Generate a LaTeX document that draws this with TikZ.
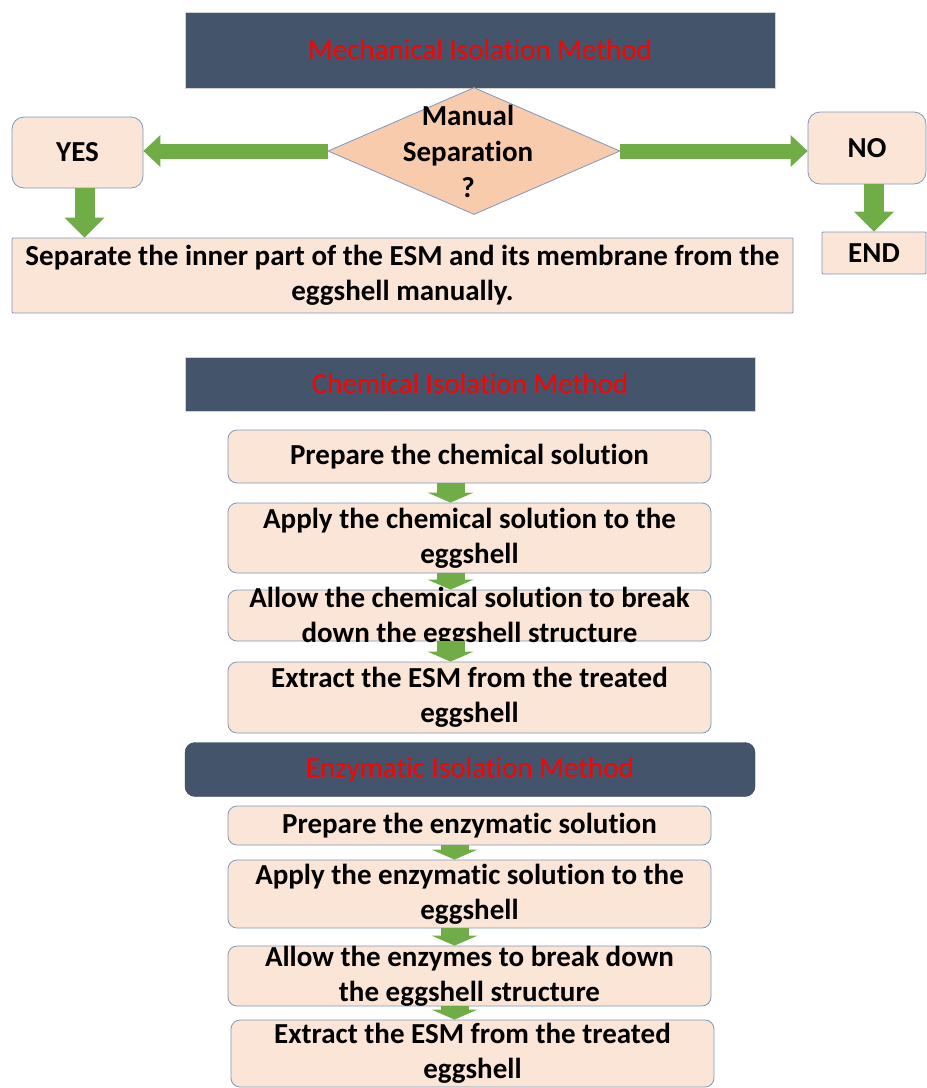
\documentclass[tikz,border=0pt]{standalone}
\usepackage{fontspec}
\setmainfont{Carlito}[Ligatures=NoCommon]
\usepackage{xcolor}
\usepackage{tikz}
\usetikzlibrary{arrows.meta,shapes.geometric}
\definecolor{HeaderSlate}{RGB}{68,84,106}
\definecolor{BoxPeach}{RGB}{251,229,214}
\definecolor{BoxEdge}{RGB}{125,152,188}
\definecolor{DiamondPeach}{RGB}{248,203,173}
\definecolor{ArrowGreen}{RGB}{112,173,71}
\tikzset{
  header/.style={fill=HeaderSlate,draw=gray!35,minimum width=570,minimum height=54,inner sep=0,
    text=red,font=\fontsize{29}{32}\selectfont},
  stepbox/.style={fill=BoxPeach,draw=BoxEdge,line width=0.8,rounded corners=9,minimum width=483,inner sep=0,
    align=center,font=\fontsize{29}{35}\selectfont\bfseries},
  steptext/.style={align=center,inner sep=0,font=\fontsize{29}{35}\selectfont\bfseries},
  sidearrow/.style={draw=ArrowGreen,line width=15,-{Triangle[width=32,length=17,line width=0pt]}},
  bigarrow/.style={draw=ArrowGreen,line width=20,-{Triangle[width=40,length=20,line width=0pt]}},
  smallarrow/.style={draw=ArrowGreen,line width=28,-{Triangle[width=46,length=10,line width=0pt]}}
}

\begin{document}
\begin{tikzpicture}[x=1pt,y=-1pt]
  \useasboundingbox (0,0) rectangle (927,1088);
  % mechanical part
  \node[header,minimum width=590,minimum height=76] (mech) at (480,50) {Mechanical Isolation Method};
  \node[diamond,fill=DiamondPeach,draw=BoxEdge,line width=0.8,minimum width=292,minimum height=127,inner sep=0] (dia) at (474,151) {};
  \node[steptext,font=\fontsize{29}{36}\selectfont\bfseries] (diat) at (468,151) {Manual\\Separation\\?};
  \node[stepbox,minimum width=131,minimum height=71,rounded corners=12] (yes) at (77.5,152.5) {YES};
  \node[stepbox,minimum width=118,minimum height=72,rounded corners=12] (no) at (867,148) {NO};
  \node[stepbox,minimum width=104,minimum height=42,rounded corners=1] (end) at (874,253) {END};
  \node[stepbox,minimum width=781,minimum height=75,rounded corners=1] (sep) at (402.5,275.5)
    {Separate the inner part of the ESM and its membrane from the\\eggshell manually.};
  \draw[sidearrow] (dia.west) -- (dia.west -| yes.east);
  \draw[sidearrow] (dia.east) -- (dia.east -| no.west);
  \draw[bigarrow] ([xshift=7]yes.south) -- ([xshift=7]yes.south |- sep.north);
  \draw[bigarrow] (end.north |- no.south) -- (end.north);

  % chemical part
  \node[header] (chem) at (470,384) {Chemical Isolation Method};
  \node[stepbox,minimum height=53] (c1) at (469.5,456.5) {Prepare the chemical solution};
  \node[stepbox,minimum height=70] (c2) at (469.5,538) {Apply the chemical solution to the\\eggshell};
  \node[stepbox,minimum height=51] (c3) at (469.5,615.5) {};
  \node[steptext] (c3t) at (469.5,617) {Allow the chemical solution to break\\down the eggshell structure};
  \node[stepbox,minimum height=71] (c4) at (469.5,697.5) {Extract the ESM from the treated\\eggshell};
  \foreach \a/\b in {c1/c2,c2/c3,c3/c4}
    \draw[smallarrow] ([xshift=-19]\a.south) -- ([xshift=-19]\b.north);

  % enzymatic part
  \node[header,rounded corners=10,draw=HeaderSlate!80!black] (enz) at (470,769.5) {Enzymatic Isolation Method};
  \node[stepbox,minimum height=39] (e1) at (469.5,825.5) {Prepare the enzymatic solution};
  \node[stepbox,minimum height=68] (e2) at (469.5,894) {Apply the enzymatic solution to the\\eggshell};
  \node[stepbox,minimum height=60] (e3) at (469.5,976) {};
  \node[steptext] (e3t) at (469.5,976) {Allow the enzymes to break down\\the eggshell structure};
  \node[stepbox,minimum height=67] (e4) at (472.5,1053.5) {Extract the ESM from the treated\\eggshell};
  \foreach \a/\b in {e1/e2,e2/e3}
    \draw[smallarrow] ([xshift=-15]\a.south) -- ([xshift=-15]\b.north);
  \draw[smallarrow] ([xshift=-15]e3.south) -- ([xshift=-18]e4.north);
\end{tikzpicture}
\end{document}
